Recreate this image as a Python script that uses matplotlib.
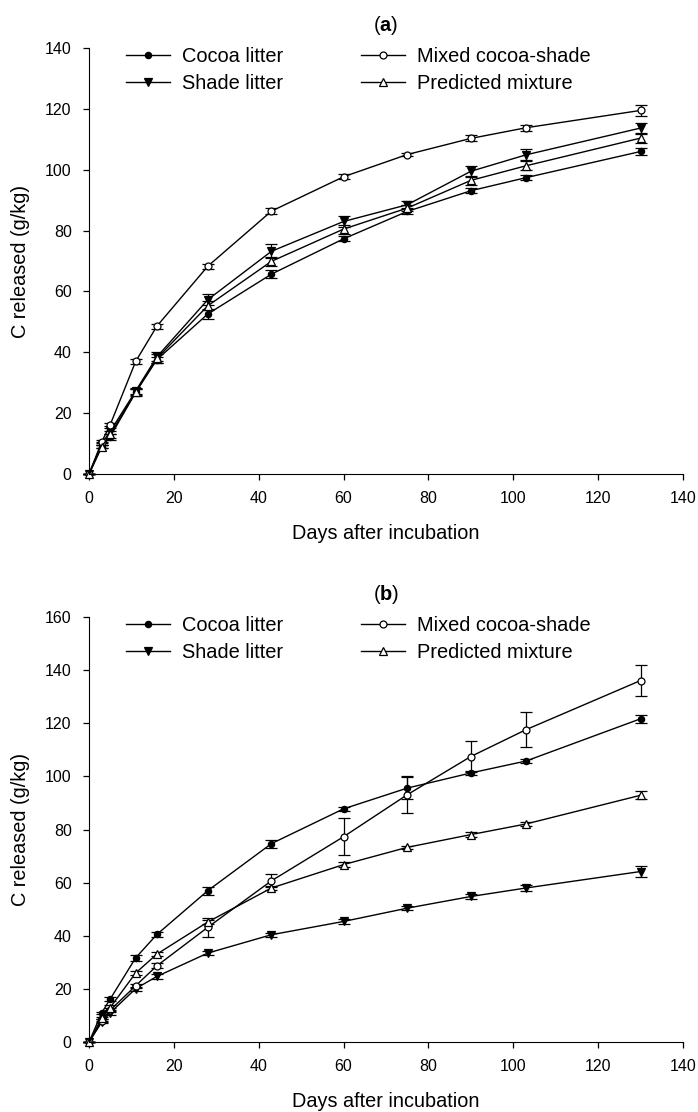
import matplotlib
matplotlib.use("Agg")
import matplotlib.pyplot as plt

plt.rcParams['font.family'] = ['Liberation Sans', 'DejaVu Sans']
plt.rcParams['mathtext.fontset'] = 'custom'
plt.rcParams['mathtext.rm'] = 'Liberation Sans'
plt.rcParams['mathtext.bf'] = 'Liberation Sans:bold'

# days of incubation
days = [0, 3, 5, 11, 16, 28, 43, 60, 75, 90, 103, 130]

# panel (a)
a_cocoa = [0, 9.0, 12.3, 26.8, 37.6, 52.6, 65.7, 77.3, 86.3, 93.1, 97.4, 106.0]
a_cocoa_err = [0, 0.5, 1.0, 1.0, 1.0, 1.5, 1.3, 0.8, 0.8, 0.8, 0.8, 1.0]
a_shade = [0, 10.0, 14.0, 27.3, 38.5, 57.3, 73.2, 83.0, 88.5, 99.5, 104.9, 113.7]
a_shade_err = [0, 0.5, 1.0, 1.0, 1.5, 1.8, 2.3, 1.8, 1.2, 1.8, 1.8, 1.7]
a_mixed = [0, 10.6, 16.2, 37.0, 48.6, 68.3, 86.4, 97.7, 105.0, 110.3, 113.8, 119.5]
a_mixed_err = [0, 0.5, 0.5, 0.8, 0.8, 0.8, 1.0, 0.8, 0.6, 1.0, 1.0, 1.7]
a_pred = [0, 9.0, 13.0, 27.0, 38.0, 55.3, 69.9, 80.5, 87.4, 96.5, 101.3, 110.4]
a_pred_err = [0, 0.5, 1.0, 1.0, 1.5, 1.5, 1.5, 1.5, 1.0, 1.5, 1.5, 1.5]

# panel (b)
b_cocoa = [0, 11.0, 16.2, 31.7, 40.5, 57.0, 74.7, 87.8, 95.6, 101.3, 105.8, 121.7]
b_cocoa_err = [0, 0.5, 0.8, 1.0, 1.0, 1.5, 1.5, 0.8, 4.0, 0.8, 0.8, 1.5]
b_shade = [0, 7.5, 11.0, 20.1, 24.7, 33.5, 40.4, 45.4, 50.4, 54.8, 58.0, 64.2]
b_shade_err = [0, 0.5, 0.8, 0.8, 0.8, 0.8, 0.8, 0.8, 0.8, 1.0, 1.2, 2.2]
b_mixed = [0, 8.0, 12.0, 21.2, 28.7, 43.2, 60.7, 77.3, 93.1, 107.5, 117.6, 136.1]
b_mixed_err = [0, 0.5, 0.8, 0.8, 1.0, 3.6, 2.5, 7.0, 6.9, 6.0, 6.7, 5.8]
b_pred = [0, 9.0, 13.0, 26.0, 33.1, 45.2, 58.0, 66.8, 73.3, 78.1, 82.1, 92.9]
b_pred_err = [0, 0.5, 0.8, 0.8, 0.8, 0.8, 0.8, 0.8, 0.6, 0.8, 0.8, 1.5]

labels = ['Cocoa litter', 'Shade litter', 'Mixed cocoa-shade', 'Predicted mixture']
styles = [('o', 'black', 4.5), ('v', 'black', 5.5), ('o', 'white', 5), ('^', 'white', 5.5)]


def draw_panel(ax, series, ymax, tag):
    for (vals, errs), lab, (mk, fc, ms) in zip(series, labels, styles):
        ax.errorbar(days, vals, yerr=errs, label=lab, color='black', lw=1,
                    marker=mk, mfc=fc, mec='black', ms=ms, mew=0.9,
                    capsize=4.5, elinewidth=0.9, capthick=0.9, clip_on=False)
    ax.set_xlim(0, 140)
    ax.set_ylim(0, ymax)
    ax.set_xticks(range(0, 141, 20))
    ax.set_yticks(range(0, ymax + 1, 20))
    ax.spines['top'].set_visible(False)
    ax.spines['right'].set_visible(False)
    ax.tick_params(direction='out', length=4.5, width=0.9, labelsize=11.5, pad=8)
    ax.set_xlabel('Days after incubation', fontsize=14.3, labelpad=13)
    ax.set_ylabel('C released (g/kg)', fontsize=14.3, labelpad=11)
    ax.set_title(r'($\mathbf{' + tag + r'}$)', fontsize=14.3, pad=12)
    handles, labs = ax.get_legend_handles_labels()
    handles = [h[0] for h in handles]
    ax.legend(handles, labs, ncol=2, frameon=False, loc='upper left',
              bbox_to_anchor=(0.062, 1.003), borderpad=0, borderaxespad=0,
              fontsize=14.4, handlelength=2.2, handletextpad=0.6,
              columnspacing=3.9, labelspacing=0.4)


fig = plt.figure(figsize=(6.98, 11.12), dpi=100)
ax_a = fig.add_axes([0.1275, 0.5737, 0.851, 0.3831])
ax_b = fig.add_axes([0.1275, 0.0629, 0.851, 0.3822])

draw_panel(ax_a, [(a_cocoa, a_cocoa_err), (a_shade, a_shade_err),
                  (a_mixed, a_mixed_err), (a_pred, a_pred_err)], 140, 'a')
draw_panel(ax_b, [(b_cocoa, b_cocoa_err), (b_shade, b_shade_err),
                  (b_mixed, b_mixed_err), (b_pred, b_pred_err)], 160, 'b')

fig.savefig('out.png', dpi=100)
